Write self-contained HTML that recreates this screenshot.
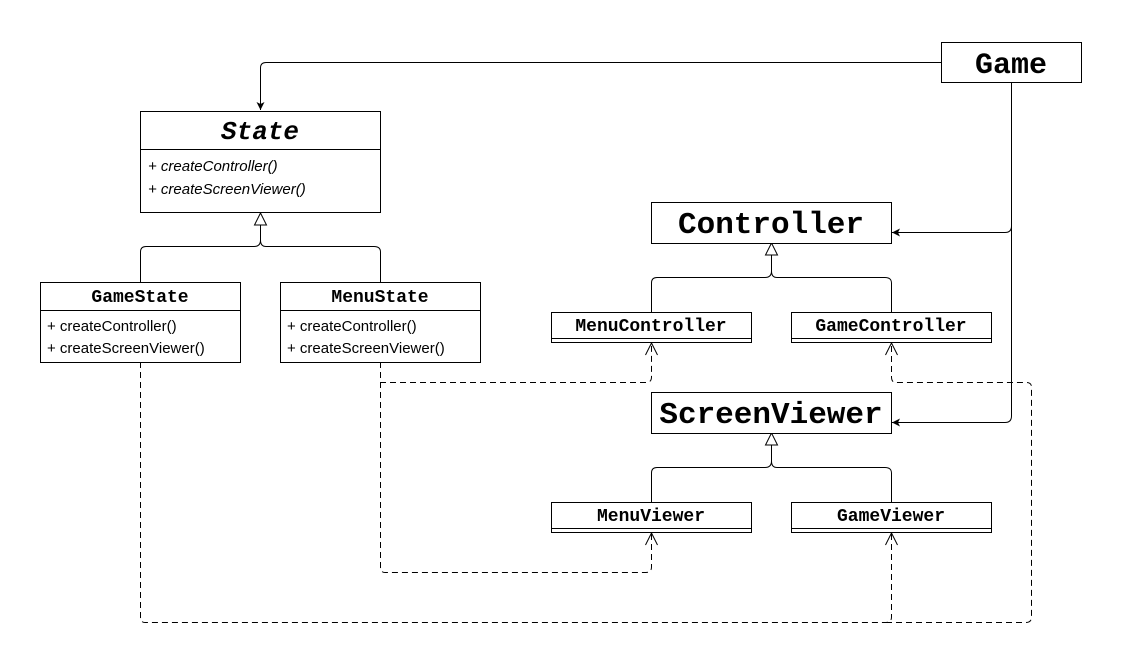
<!DOCTYPE html>
<html><head><style>
body{margin:0;background:#fff}
svg{display:block}
.m{font-family:"Liberation Mono","DejaVu Sans Mono",monospace;font-weight:bold;fill:#000}
.s{font-family:"Liberation Sans",sans-serif;font-size:15px;fill:#000}
</style></head><body>
<svg width="1122" height="666" viewBox="0 0 1122 666" xmlns="http://www.w3.org/2000/svg">
<defs>
<marker id="fa" markerWidth="10" markerHeight="10" refX="9" refY="5" orient="auto" markerUnits="userSpaceOnUse"><path d="M1,1 L9,5 L1,9 L3,5 Z" fill="#000"/></marker>
<marker id="oa" markerWidth="14" markerHeight="14" refX="13" refY="7" orient="auto" markerUnits="userSpaceOnUse"><path d="M1,1 L13,7 L1,13" fill="none" stroke="#000" stroke-dasharray="none"/></marker>
</defs>
<g fill="none" stroke="#000" stroke-width="1">
<path d="M941,62.5 H266 Q260.5,62.5 260.5,68 V110" marker-end="url(#fa)"/>
<path d="M1011.5,82 V226 Q1011.5,232.5 1005,232.5 H892" marker-end="url(#fa)"/>
<path d="M1011.5,226 V416 Q1011.5,422.5 1005,422.5 H892" marker-end="url(#fa)"/>
<path d="M140.5,282 V252 Q140.5,246.5 146,246.5 H254 Q260.5,246.5 260.5,240 V225 M380.5,282 V252 Q380.5,246.5 374,246.5 H266 Q260.5,246.5 260.5,240"/>
<path d="M260.5,213 L254.5,225 H266.5 Z" fill="#fff"/>
<path d="M651.5,312 V283 Q651.5,277.5 657,277.5 H765 Q771.5,277.5 771.5,271 V255 M891.5,312 V283 Q891.5,277.5 885,277.5 H777 Q771.5,277.5 771.5,271"/>
<path d="M771.5,243 L765.5,255 H777.5 Z" fill="#fff"/>
<path d="M651.5,502 V473 Q651.5,467.5 657,467.5 H765 Q771.5,467.5 771.5,461 V445 M891.5,502 V473 Q891.5,467.5 885,467.5 H777 Q771.5,467.5 771.5,461"/>
<path d="M771.5,433 L765.5,445 H777.5 Z" fill="#fff"/>
</g>
<g fill="none" stroke="#000" stroke-width="1" stroke-dasharray="6,4">
<path d="M380.5,362 V382.5 H646 Q651.5,382.5 651.5,377 V343" marker-end="url(#oa)"/>
<path d="M380.5,382 V567 Q380.5,572.5 385,572.5 H646 Q651.5,572.5 651.5,567 V533" marker-end="url(#oa)"/>
<path d="M140.5,362 V617 Q140.5,622.5 145,622.5 H886 Q891.5,622.5 891.5,617 V533" marker-end="url(#oa)"/>
<path d="M886,622.5 H1026 Q1031.5,622.5 1031.5,617 V387 Q1031.5,382.5 1026,382.5 H896 Q891.5,382.5 891.5,377 V343" marker-end="url(#oa)"/>
</g>
<rect x="941.5" y="42.5" width="140" height="40" fill="#fff" stroke="#000"/>
<text x="1011" y="73" text-anchor="middle" class="m" font-size="30">Game</text>
<rect x="140.5" y="111.5" width="240" height="101" fill="#fff" stroke="#000"/>
<line x1="140" y1="149.5" x2="380" y2="149.5" stroke="#000"/>
<text x="260" y="139" text-anchor="middle" class="m" font-size="26" font-style="italic">State</text>
<text x="148" y="171" class="s" font-style="italic">+ createController()</text>
<text x="148" y="194" class="s" font-style="italic">+ createScreenViewer()</text>
<rect x="40.5" y="282.5" width="200" height="80" fill="#fff" stroke="#000"/>
<line x1="40" y1="310.5" x2="240" y2="310.5" stroke="#000"/>
<text x="140" y="302" text-anchor="middle" class="m" font-size="18">GameState</text>
<text x="47" y="331" class="s">+ createController()</text>
<text x="47" y="353" class="s">+ createScreenViewer()</text>
<rect x="280.5" y="282.5" width="200" height="80" fill="#fff" stroke="#000"/>
<line x1="280" y1="310.5" x2="480" y2="310.5" stroke="#000"/>
<text x="380" y="302" text-anchor="middle" class="m" font-size="18">MenuState</text>
<text x="287" y="331" class="s">+ createController()</text>
<text x="287" y="353" class="s">+ createScreenViewer()</text>
<rect x="651.5" y="202.5" width="240" height="41" fill="#fff" stroke="#000"/>
<text x="771" y="233" text-anchor="middle" class="m" font-size="31">Controller</text>
<rect x="651.5" y="392.5" width="240" height="41" fill="#fff" stroke="#000"/>
<text x="771" y="423" text-anchor="middle" class="m" font-size="31">ScreenViewer</text>
<g stroke="#000" fill="#fff">
<rect x="551.5" y="312.5" width="200" height="30"/><line x1="551" y1="338.5" x2="751" y2="338.5"/>
<rect x="791.5" y="312.5" width="200" height="30"/><line x1="791" y1="338.5" x2="991" y2="338.5"/>
<rect x="551.5" y="502.5" width="200" height="30"/><line x1="551" y1="528.5" x2="751" y2="528.5"/>
<rect x="791.5" y="502.5" width="200" height="30"/><line x1="791" y1="528.5" x2="991" y2="528.5"/>
</g>
<text x="651" y="331" text-anchor="middle" class="m" font-size="18">MenuController</text>
<text x="891" y="331" text-anchor="middle" class="m" font-size="18">GameController</text>
<text x="651" y="521" text-anchor="middle" class="m" font-size="18">MenuViewer</text>
<text x="891" y="521" text-anchor="middle" class="m" font-size="18">GameViewer</text>
</svg>
</body></html>
